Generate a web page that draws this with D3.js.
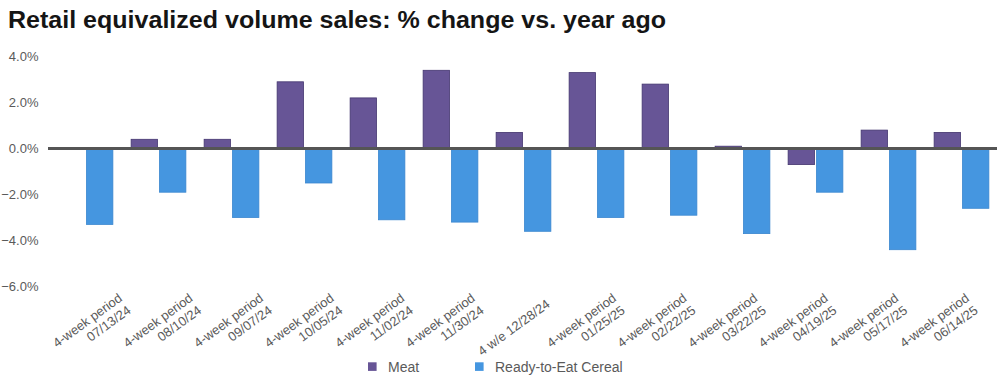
<!DOCTYPE html>
<html>
<head>
<meta charset="utf-8">
<script src="https://cdn.jsdelivr.net/npm/d3@7"></script>
<style>
  html, body { margin: 0; padding: 0; background: #fff; }
  svg { display: block; }
  text { font-family: "Liberation Sans", Arial, sans-serif; }
</style>
</head>
<body>
<svg id="chart" width="1000" height="381"></svg>
<script>
const categories = [
  "4-week period\n07/13/24",
  "4-week period\n08/10/24",
  "4-week period\n09/07/24",
  "4-week period\n10/05/24",
  "4-week period\n11/02/24",
  "4-week period\n11/30/24",
  "4 w/e 12/28/24",
  "4-week period\n01/25/25",
  "4-week period\n02/22/25",
  "4-week period\n03/22/25",
  "4-week period\n04/19/25",
  "4-week period\n05/17/25",
  "4-week period\n06/14/25"
];
const seriesNames = ["Meat", "Ready-to-Eat Cereal"];
const meatValues   = [0.0, 0.4, 0.4, 2.9, 2.2, 3.4, 0.7, 3.3, 2.8, 0.1, -0.7, 0.8, 0.7];
const cerealValues = [-3.3, -1.9, -3.0, -1.5, -3.1, -3.2, -3.6, -3.0, -2.9, -3.7, -1.9, -4.4, -2.6];
const yTicks = [4, 2, 0, -2, -4, -6];
const colors = ["#675596", "#4596e0"];
const strokes = ["#44366f", "#3a86cf"];
const title = "Retail equivalized volume sales: % change vs. year ago";

const svg = d3.select("#chart");

// Title
const t = svg.append("text")
  .attr("x", 8).attr("y", 28)
  .attr("font-size", 23).attr("font-weight", "bold")
  .attr("fill", "#151515")
  .text(title);
const tw = t.node().getComputedTextLength();
if (Math.abs(tw - 658) > 4) t.attr("textLength", 658).attr("lengthAdjust", "spacingAndGlyphs");

// Scales
const x0 = d3.scaleBand().domain(categories).range([49, 998]).paddingInner(0.25).paddingOuter(0.125);
const x1 = d3.scaleBand().domain(seriesNames).range([0, x0.bandwidth()]).paddingInner(0.07);
const y = d3.scaleLinear().domain([-6, 4]).range([286.5, 56.5]);
const xl = d3.scalePoint().domain(categories).range([123, 970]);

// Y axis labels
const yAxis = d3.axisLeft(y).tickValues(yTicks).tickFormat(d => d3.format(".1f")(d) + "%").tickSize(0).tickPadding(0);
const gy = svg.append("g").attr("transform", "translate(38.5,0)").call(yAxis);
gy.select(".domain").remove();
gy.selectAll("text").attr("font-size", 13).attr("fill", "#5a5a5a")
  .attr("font-family", "'Liberation Sans', Arial, sans-serif");

// Bars
const rows = categories.map((c, i) => ({cat: c, vals: [meatValues[i], cerealValues[i]]}));
const groups = svg.append("g").selectAll("g").data(rows).join("g")
  .attr("transform", d => `translate(${x0(d.cat)},0)`);
groups.selectAll("rect").data(d => d.vals.map((v, k) => ({v, k, name: seriesNames[k]})))
  .join("rect")
  .attr("x", d => x1(d.name))
  .attr("width", x1.bandwidth())
  .attr("y", d => y(Math.max(0, d.v)))
  .attr("height", d => Math.abs(y(d.v) - y(0)))
  .attr("fill", d => colors[d.k])
  .attr("stroke", d => d.v === 0 ? "none" : strokes[d.k])
  .attr("stroke-width", 0.8);

// Zero line
svg.append("line")
  .attr("x1", 48).attr("x2", 997)
  .attr("y1", y(0)).attr("y2", y(0))
  .attr("stroke", "#555555").attr("stroke-width", 3);

// X labels (rotated)
const xg = svg.append("g");
categories.forEach(c => {
  const lines = c.split("\n");
  const g = xg.append("g").attr("transform", `translate(${xl(c)},300) rotate(-36)`);
  const off = lines.length === 1 ? 7.5 : 0;
  lines.forEach((ln, j) => {
    g.append("text")
      .attr("x", 0).attr("y", off + j * 15)
      .attr("text-anchor", "end")
      .attr("font-size", 13).attr("fill", "#5a5a5a")
      .text(ln);
  });
});

// Legend
const legendX = [368, 475];
seriesNames.forEach((n, k) => {
  svg.append("rect").attr("x", legendX[k]).attr("y", 362.3).attr("width", 8.6).attr("height", 8.6)
    .attr("fill", colors[k]);
  svg.append("text").attr("x", legendX[k] + 20).attr("y", 367)
    .attr("dominant-baseline", "central")
    .attr("font-size", 14).attr("fill", "#5a5a5a")
    .text(n);
});
</script>
</body>
</html>
